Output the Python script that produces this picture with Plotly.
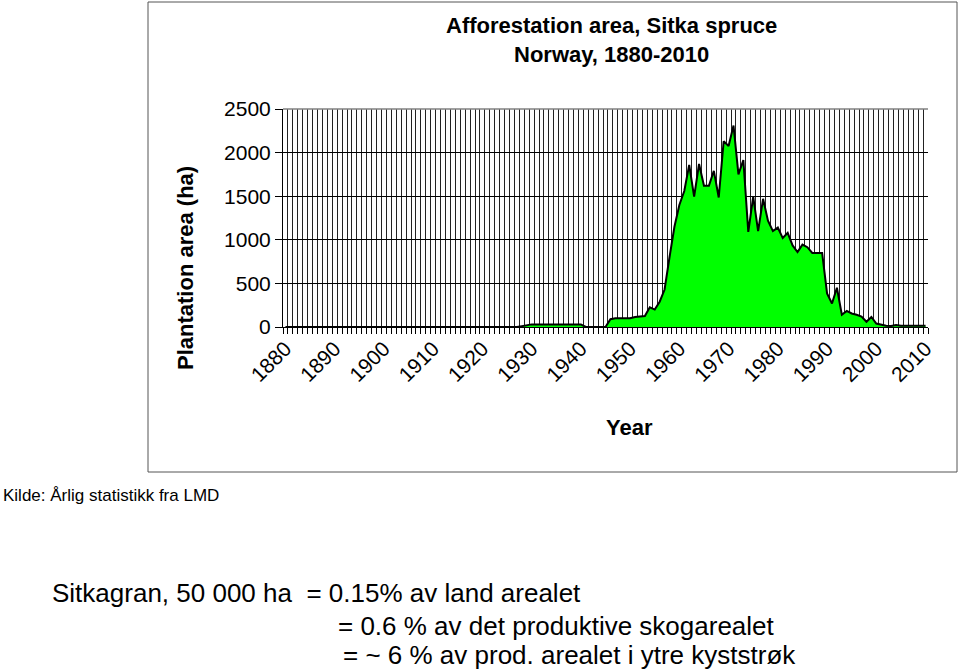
import plotly.graph_objects as go

years = list(range(1880, 2011))

area_ha = [
    0, 0, 0, 0, 0, 0, 0, 0, 0, 0,            # 1880-1889
    0, 0, 0, 0, 0, 0, 0, 0, 0, 0,            # 1890-1899
    0, 0, 0, 0, 0, 0, 0, 0, 0, 0,            # 1900-1909
    0, 0, 0, 0, 0, 0, 0, 0, 0, 0,            # 1910-1919
    0, 0, 0, 0, 0, 0, 0, 0, 10, 20,          # 1920-1929
    30, 30, 30, 30, 30, 30, 30, 30, 30, 30,  # 1930-1939
    30, 0, 0, 0, 0, 0, 90, 100, 100, 100,    # 1940-1949
    100, 115, 120, 125, 225, 200, 290, 430, 800, 1150,       # 1950-1959
    1400, 1560, 1860, 1495, 1870, 1620, 1620, 1790, 1485, 2130,  # 1960-1969
    2075, 2310, 1750, 1915, 1090, 1495, 1100, 1470, 1220, 1100,  # 1970-1979
    1140, 1020, 1080, 935, 860, 945, 915, 850, 850, 850,     # 1980-1989
    385, 270, 450, 140, 185, 155, 140, 120, 60, 115,         # 1990-1999
    40, 25, 15, 12, 22, 15, 15, 15, 15, 22,                  # 2000-2009
    15,                                                      # 2010
]

x_tick_labels = [1880, 1890, 1900, 1910, 1920, 1930, 1940, 1950, 1960, 1970, 1980, 1990, 2000, 2010]
y_tick_values = [0, 500, 1000, 1500, 2000, 2500]

title_text = "Afforestation area, Sitka spruce<br>Norway, 1880-2010"
y_title = "Plantation area (ha)"
x_title = "Year"
source_text = "Kilde: Årlig statistikk fra LMD"
note_lines = [
    "Sitkagran, 50 000 ha  = 0.15% av land arealet",
    "= 0.6 % av det produktive skogarealet",
    "= ~ 6 % av prod. arealet i ytre kyststrøk",
]

FONT = "Liberation Sans, Arial, sans-serif"

fig = go.Figure()
fig.add_trace(go.Scatter(
    x=years, y=area_ha, mode="lines", fill="tozeroy",
    fillcolor="#00FF00", line=dict(color="black", width=2),
    hoverinfo="x+y", showlegend=False,
))

# plot area: x 283..928, y 109..327 (px)
L, R, T, B = 283, 928, 109, 327
W, H = R - L, B - T

def px_x(px):
    return (px - L) / W

def px_y(py):
    return (B - py) / H

fig.update_layout(
    width=960, height=670,
    margin=dict(l=L, r=960 - R, t=T, b=670 - B),
    paper_bgcolor="white", plot_bgcolor="white",
    font=dict(family=FONT, color="black"),
    xaxis=dict(
        range=[1879.5, 2010.5],
        tickvals=x_tick_labels,
        ticktext=[str(v) for v in x_tick_labels],
        tickangle=-45,
        tickfont=dict(size=21, family=FONT),
        showgrid=False, ticks="",
        showline=True, linecolor="black", linewidth=1,
        zeroline=False,
        minor=dict(tick0=1879.5, dtick=1, showgrid=True, gridcolor="#222222",
                   gridwidth=1, ticks="outside", ticklen=6, tickcolor="black"),
    ),
    yaxis=dict(
        range=[0, 2500],
        tickvals=y_tick_values,
        tickfont=dict(size=21, family=FONT),
        showgrid=True, gridcolor="black", gridwidth=1,
        ticks="outside", ticklen=7, tickcolor="black",
        showline=True, linecolor="black", linewidth=1,
        zeroline=False,
    ),
)

# outer chart frame
fig.add_shape(type="rect", xref="paper", yref="paper",
              x0=px_x(148), x1=px_x(957), y0=px_y(472), y1=px_y(2),
              line=dict(color="#555555", width=1), fillcolor="rgba(0,0,0,0)", layer="below")
# top border of plot area
fig.add_shape(type="line", xref="paper", yref="paper",
              x0=0, x1=1, y0=1, y1=1, line=dict(color="#808080", width=1.5))

fig.add_annotation(xref="paper", yref="paper", x=px_x(611), y=px_y(40),
                   text="<b>" + title_text + "</b>", showarrow=False,
                   font=dict(size=22, family=FONT), align="center",
                   xanchor="center", yanchor="middle")

# axis titles
fig.add_annotation(xref="paper", yref="paper", x=px_x(185), y=px_y(268),
                   text="<b>" + y_title + "</b>", showarrow=False, textangle=-90,
                   font=dict(size=22, family=FONT), xanchor="center", yanchor="middle")
fig.add_annotation(xref="paper", yref="paper", x=px_x(629), y=px_y(427),
                   text="<b>" + x_title + "</b>", showarrow=False,
                   font=dict(size=22, family=FONT), xanchor="center", yanchor="middle")

fig.add_annotation(xref="paper", yref="paper", x=px_x(1), y=px_y(495),
                   text=source_text, showarrow=False,
                   font=dict(size=17, family=FONT), xanchor="left", yanchor="middle")

note_pos = [(50, 593), (336, 626), (341, 655)]
for (nx, ny), txt in zip(note_pos, note_lines):
    fig.add_annotation(xref="paper", yref="paper", x=px_x(nx), y=px_y(ny),
                       text=txt, showarrow=False,
                       font=dict(size=26, family=FONT), xanchor="left", yanchor="middle")

fig.write_html("out.html", config={"displayModeBar": False},
               post_script="document.body.style.margin='0';document.body.style.overflow='hidden';")
